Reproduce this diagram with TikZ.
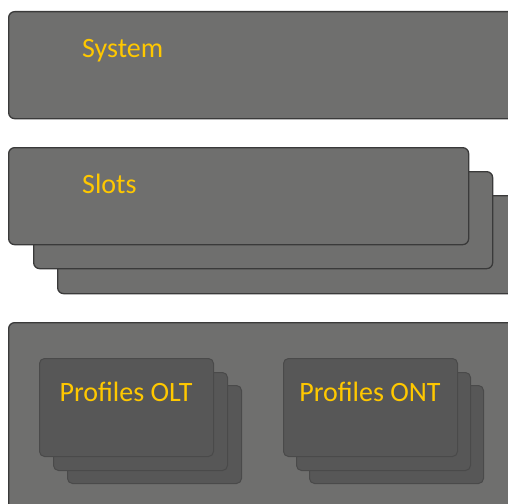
\documentclass[tikz,border=0pt]{standalone}
\usepackage{fontspec}
\setmainfont{Carlito}
\usepackage{tikz}

\definecolor{boxgray}{HTML}{6F6F6E}
\definecolor{boxline}{HTML}{3A3A3A}
\definecolor{cardgray}{HTML}{575757}
\definecolor{cardline}{HTML}{4A4A4A}
\definecolor{lblgold}{HTML}{FFC800}

\tikzset{
  panel/.style={draw=boxline, fill=boxgray, line width=1.3pt, rounded corners=6pt,
    anchor=north west, inner sep=0pt},
  card/.style={draw=cardline, fill=cardgray, line width=1pt, rounded corners=5pt,
    anchor=north west, inner sep=0pt, minimum width=174pt, minimum height=98pt},
  lbl/.style={text=lblgold, font=\fontsize{28}{33}\selectfont, inner sep=0pt}
}

\begin{document}
\begin{tikzpicture}[x=1pt, y=-1pt]
    \useasboundingbox (0,0) rectangle (508,503);
    \clip (0,0) rectangle (508,503);

    % System
    \node[panel, minimum width=512pt, minimum height=107pt] (sys) at (8,11) {};
    \node[lbl, anchor=base west] (systxt) at (82,57) {System};

    % Slots (stacked)
    \node[panel, minimum width=463pt, minimum height=98pt] (slotc) at (57,195) {};
    \node[panel, minimum width=459pt, minimum height=97pt] (slotb) at (33,171) {};
    \node[panel, minimum width=460pt, minimum height=97pt] (slota) at (8,147) {};
    \node[lbl, anchor=base west] (slottxt) at (82,193) {Slots};

    % Profiles
    \node[panel, minimum width=512pt, minimum height=200pt] (prof) at (8,322) {};

    \node[card] (oltc) at (67,385) {};
    \node[card] (oltb) at (53,372) {};
    \node[card] (olta) at (39,358) {};
    \node[lbl, anchor=base] (olttxt) at (126,401) {Profiles OLT};

    \node[card] (ontc) at (309,385) {};
    \node[card] (ontb) at (296,372) {};
    \node[card] (onta) at (283,358) {};
    \node[lbl, anchor=base] (onttxt) at (370,401) {Profiles ONT};
\end{tikzpicture}
\end{document}
